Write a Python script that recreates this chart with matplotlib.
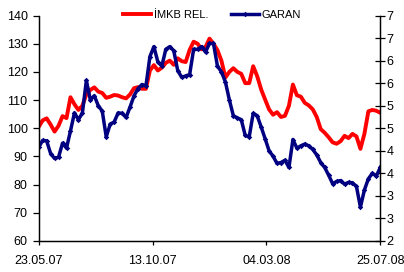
import numpy as np
import pandas as pd
import matplotlib
matplotlib.use("Agg")
import matplotlib.pyplot as plt
import matplotlib.dates as mdates
from matplotlib.ticker import FuncFormatter

# values (87 evenly spaced samples)
start_date = "2007-05-23"
end_date = "2008-07-25"
n_points = 87

imkb_rel = [100.5, 102.8, 103.5, 101.3, 98.8, 100.9, 104.3, 103.6, 111.0, 108.5,
            106.5, 108.0, 112.0, 113.6, 114.5, 113.0, 112.5, 110.8, 111.2, 111.8,
            111.6, 111.0, 110.6, 112.0, 114.2, 114.6, 114.0, 114.0, 120.5, 122.4,
            120.5, 121.5, 123.2, 124.0, 122.5, 124.8, 123.8, 123.5, 127.8, 130.7,
            130.0, 128.0, 128.8, 131.8, 130.0, 127.7, 124.0, 118.0, 120.0, 121.3,
            120.0, 119.3, 116.0, 116.0, 122.0, 118.5, 113.8, 110.2, 106.7, 104.8,
            105.7, 104.0, 104.4, 108.0, 115.5, 111.7, 111.2, 109.0, 108.1, 106.7,
            104.0, 99.7, 98.4, 96.8, 95.0, 94.5, 95.4, 97.3, 96.5, 98.0,
            97.1, 92.7, 98.0, 106.0, 106.5, 106.2, 105.5]

garan = [4.08, 4.23, 4.22, 3.94, 3.83, 3.86, 4.17, 4.06, 4.44, 4.84,
         4.69, 4.84, 5.56, 5.13, 5.22, 5.00, 4.88, 4.31, 4.59, 4.64,
         4.84, 4.83, 4.74, 4.97, 5.22, 5.38, 5.47, 5.44, 6.09, 6.31,
         5.97, 5.88, 6.25, 6.31, 6.22, 5.78, 5.63, 5.66, 5.69, 6.25,
         6.25, 6.31, 6.19, 6.38, 6.38, 5.88, 5.75, 5.53, 5.13, 4.78,
         4.73, 4.69, 4.34, 4.31, 4.83, 4.78, 4.53, 4.27, 4.00, 3.88,
         3.72, 3.74, 3.79, 3.63, 4.25, 4.06, 4.11, 4.15, 4.11, 4.03,
         3.91, 3.74, 3.63, 3.46, 3.27, 3.32, 3.34, 3.26, 3.30, 3.29,
         3.21, 2.75, 3.13, 3.38, 3.50, 3.44, 3.63]

x_ticks = ["2007-05-23", "2007-10-13", "2008-03-04", "2008-07-25"]
left_ticks = [60, 70, 80, 90, 100, 110, 120, 130, 140]
right_ticks = [2, 2.5, 3, 3.5, 4, 4.5, 5, 5.5, 6, 6.5, 7]

dates = pd.date_range(start_date, end_date, periods=n_points)

plt.rcParams["font.family"] = ["Liberation Sans", "DejaVu Sans"]
plt.rcParams["font.size"] = 9

fig = plt.figure(figsize=(4.04, 2.72), dpi=100)
ax = fig.add_axes([0.0958, 0.114, 0.8455, 0.829])
ax2 = ax.twinx()

l1, = ax.plot(dates, imkb_rel, color="#FF0000", lw=2.8, label="İMKB REL.")
l2, = ax2.plot(dates, garan, color="#000080", lw=2.5, marker="D", ms=2.8,
               mew=0, label="GARAN")

ax.set_xlim(pd.Timestamp(start_date), pd.Timestamp(end_date))
ax.set_ylim(60, 140)
ax2.set_ylim(2, 7)

ax.set_xticks(pd.to_datetime(x_ticks))
ax.xaxis.set_major_formatter(mdates.DateFormatter("%d.%m.%y"))
ax.set_yticks(left_ticks)
ax2.set_yticks(right_ticks)
ax2.yaxis.set_major_formatter(FuncFormatter(lambda v, p: f"{int(np.floor(v + 0.5))}"))

for a in (ax, ax2):
    a.spines["top"].set_visible(False)
    for s in a.spines.values():
        s.set_linewidth(0.9)
ax.tick_params(axis="y", direction="out", length=4, width=0.9, pad=4)
ax.tick_params(axis="x", direction="out", length=3, width=0.9, pad=7)
ax2.tick_params(axis="y", direction="inout", length=6.5, width=0.9, pad=1)

fig.legend(handles=[l1, l2], loc="center", bbox_to_anchor=(0.525, 0.945),
           ncol=2, frameon=False, fontsize=8, handlelength=2.5,
           handletextpad=0.3, columnspacing=2.0)

fig.savefig("out.png", dpi=100)
